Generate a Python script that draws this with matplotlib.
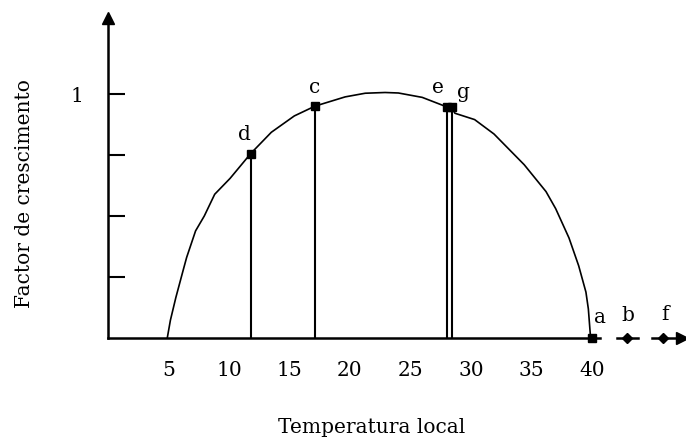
import matplotlib.pyplot as plt

# growth curve vs local temperature
temp = [4.9, 5.16, 5.61, 6.21, 6.5, 7.24, 7.96, 8.82, 10.09, 11.8, 13.5, 15.4,
        17.1, 19.6, 21.26, 22.9, 24.0, 25.97, 28.0, 28.4, 28.67, 30.3, 31.9,
        34.4, 36.2, 37.0, 38.1, 38.9, 39.5, 39.7, 39.86, 40.0]
factor = [0.0, 0.073, 0.166, 0.277, 0.33, 0.439, 0.50, 0.589, 0.654, 0.756,
          0.843, 0.91, 0.95, 0.988, 1.003, 1.006, 1.004, 0.986, 0.947, 0.946,
          0.921, 0.895, 0.836, 0.71, 0.60, 0.53, 0.41, 0.296, 0.188, 0.119,
          0.016, 0.0]

# marked points on the curve (with drop lines)
pt_names = ['d', 'c', 'e', 'g']
pt_x = [11.8, 17.1, 28.0, 28.4]
pt_y = [0.756, 0.95, 0.947, 0.946]

# points lying on the temperature axis
a_x = 40.0
b_x = 42.9
f_x = 45.9

xtick_vals = [5, 10, 15, 20, 25, 30, 35, 40]
xtick_marks = [10, 15, 20, 25, 30, 35]
ytick_marks = [0.25, 0.5, 0.75, 1.0]

plt.rcParams['font.family'] = ['DejaVu Serif']
fs = 14.5

fig = plt.figure(figsize=(6.86, 4.39), dpi=100)
ax = fig.add_axes([0.1574, 0.2278, 0.8426, 0.756])
ax.set_xlim(0, 47.77)
ax.set_ylim(0, 1.36)

for s in ['top', 'right']:
    ax.spines[s].set_visible(False)
ax.spines['left'].set_linewidth(1.8)
ax.spines['bottom'].set_linewidth(1.8)
ax.spines['left'].set_bounds(0, 1.30)
ax.spines['bottom'].set_bounds(0, 40.7)
ax.plot([0], [1.31], marker='^', ms=9, color='black', clip_on=False)

ax.set_xticks(xtick_vals)
ax.set_xticklabels([str(v) for v in xtick_vals], fontsize=fs)
ax.set_xticks(xtick_marks, minor=True)
ax.tick_params(axis='x', which='major', length=0, pad=16)
ax.tick_params(axis='x', which='minor', direction='in', length=13, width=1.5)
ax.set_yticks(ytick_marks)
ax.set_yticklabels(['', '', '', '1'], fontsize=fs)
ax.tick_params(axis='y', direction='in', length=12, width=1.5, pad=18)

ax.plot(temp, factor, color='black', lw=1.2)
ax.vlines(pt_x, 0, pt_y, color='black', lw=1.5)
ax.plot(pt_x, pt_y, 's', color='black', ms=5.5)

lbl_pos = {'d': (11.3, 0.84), 'c': (17.1, 1.03), 'e': (27.3, 1.03), 'g': (29.4, 1.01)}
for n in pt_names:
    ax.text(lbl_pos[n][0], lbl_pos[n][1], n, fontsize=fs, ha='center', va='center')

ax.plot([a_x], [0], 's', color='black', ms=5.5, clip_on=False)
ax.plot([b_x - 0.8, b_x + 0.9], [0, 0], color='black', lw=1.8, clip_on=False)
ax.plot([b_x], [0], 'D', color='black', ms=5.5, clip_on=False)
ax.plot([f_x - 0.9, f_x + 1.4], [0, 0], color='black', lw=1.8, clip_on=False)
ax.plot([f_x], [0], 'D', color='black', ms=5.5, clip_on=False)
ax.plot([f_x + 1.55], [0], '>', color='black', ms=8, clip_on=False)
ax.text(40.7, 0.09, 'a', fontsize=fs, ha='center', va='center')
ax.text(43.0, 0.095, 'b', fontsize=fs, ha='center', va='center')
ax.text(46.0, 0.10, 'f', fontsize=fs, ha='center', va='center')

fig.text(0.542, 0.0137, 'Temperatura local', fontsize=fs, ha='center', va='baseline')
fig.text(0.036, 0.56, 'Factor de crescimento', fontsize=fs, ha='center', va='center',
         rotation=90)

fig.savefig('out.png', dpi=100)
